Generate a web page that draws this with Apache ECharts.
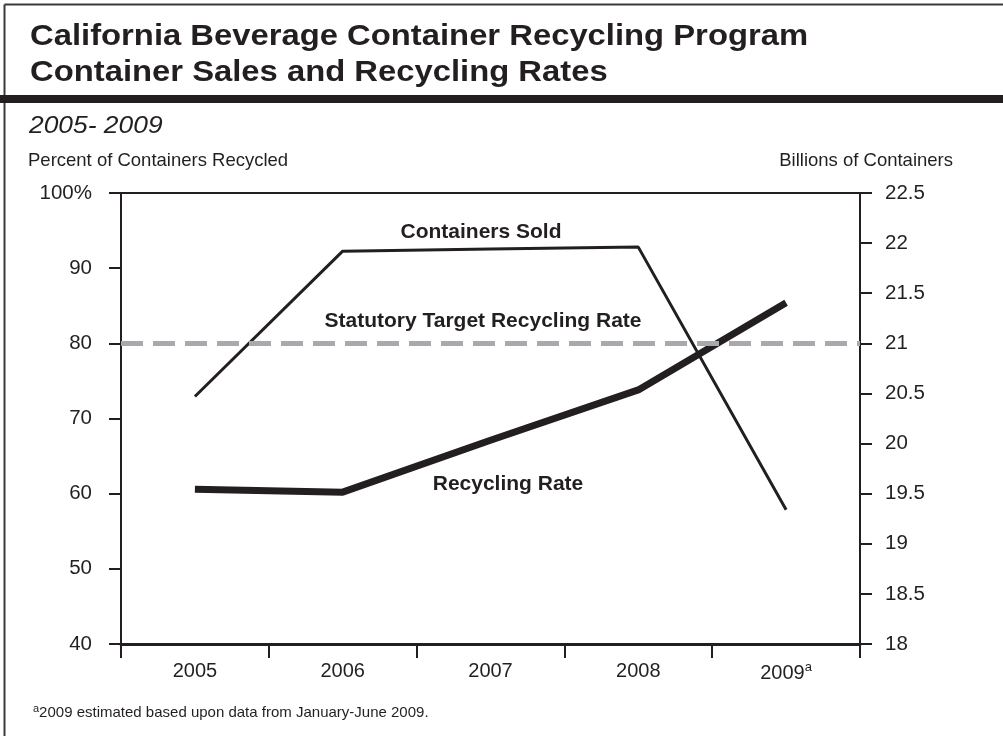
<!DOCTYPE html>
<html>
<head>
<meta charset="utf-8">
<script src="https://cdn.jsdelivr.net/npm/echarts@6/dist/echarts.min.js"></script>
<style>
html,body{margin:0;padding:0;background:#fff;}
#chart{width:1003px;height:736px;}
</style>
</head>
<body>
<div id="chart"></div>
<script>
var years = ['2005', '2006', '2007', '2008', '2009'];
var recyclingRate = [60.6, 60.2, 67.1, 73.8, 85.4];
var containersSold = [20.47, 21.92, 21.94, 21.96, 19.34];
var statutoryTarget = 80;
var leftTicks = { min: 40, max: 100, interval: 10 };
var rightTicks = { min: 18, max: 22.5, interval: 0.5 };

var FONT = '"Liberation Sans", Arial, Helvetica, sans-serif';
var INK = '#231f20';
var chart = echarts.init(document.getElementById('chart'), null, { renderer: 'canvas' });

var option = {
  backgroundColor: '#ffffff',
  animation: false,
  textStyle: { fontFamily: FONT },
  grid: { left: 121, right: 143, top: 193, bottom: 92, show: false },
  xAxis: {
    type: 'category',
    data: years,
    boundaryGap: true,
    axisLine: { show: true, lineStyle: { color: INK, width: 3 } },
    axisTick: { show: true, length: 14, inside: false, lineStyle: { color: INK, width: 2 } },
    axisLabel: {
      margin: 17,
      fontSize: 20,
      color: INK,
      fontFamily: FONT,
      formatter: function (v) { return v === '2009' ? '2009{sup|a}' : v; },
      rich: { sup: { fontSize: 13, verticalAlign: 'top', padding: [0, 0, 12, 0], color: INK, fontFamily: FONT } }
    },
    splitLine: { show: false }
  },
  yAxis: [
    {
      type: 'value',
      min: leftTicks.min, max: leftTicks.max, interval: leftTicks.interval,
      position: 'left',
      axisLine: { show: true, lineStyle: { color: INK, width: 2 } },
      axisTick: { show: true, length: 12, lineStyle: { color: INK, width: 2 } },
      axisLabel: {
        margin: 29, fontSize: 20.5, color: INK, fontFamily: FONT,
        formatter: function (v) { return v === 100 ? '100%' : String(v); }
      },
      splitLine: { show: false }
    },
    {
      type: 'value',
      min: rightTicks.min, max: rightTicks.max, interval: rightTicks.interval,
      position: 'right',
      axisLine: { show: true, lineStyle: { color: INK, width: 2 } },
      axisTick: { show: true, length: 12, lineStyle: { color: INK, width: 2 } },
      axisLabel: { margin: 25, fontSize: 20.5, color: INK, fontFamily: FONT },
      splitLine: { show: false }
    }
  ],
  series: [
    {
      name: 'Statutory Target Recycling Rate',
      type: 'line',
      yAxisIndex: 0,
      data: [],
      markLine: {
        silent: true,
        symbol: ['none', 'none'],
        label: { show: false },
        lineStyle: { color: '#a7a9ac', width: 5, type: [22, 10] },
        data: [{ yAxis: statutoryTarget }]
      },
      z: 1
    },
    {
      name: 'Top border',
      type: 'line',
      yAxisIndex: 0,
      data: [],
      markLine: {
        silent: true,
        symbol: ['none', 'none'],
        label: { show: false },
        lineStyle: { color: INK, width: 2, type: 'solid' },
        data: [{ yAxis: leftTicks.max }]
      },
      z: 1
    },
    {
      name: 'Containers Sold',
      type: 'line',
      yAxisIndex: 1,
      data: containersSold,
      symbol: 'none',
      lineStyle: { color: INK, width: 3 },
      z: 3
    },
    {
      name: 'Recycling Rate',
      type: 'line',
      yAxisIndex: 0,
      data: recyclingRate,
      symbol: 'none',
      lineStyle: { color: INK, width: 7 },
      z: 4
    }
  ],
  graphic: [
    { type: 'line', shape: { x1: 4.5, y1: 4.5, x2: 1003, y2: 4.5 }, style: { stroke: '#3a3a3a', lineWidth: 2 } },
    { type: 'line', shape: { x1: 4.5, y1: 4.5, x2: 4.5, y2: 736 }, style: { stroke: '#3a3a3a', lineWidth: 2 } },
    { type: 'rect', shape: { x: 0, y: 95, width: 1003, height: 8 }, style: { fill: INK } },
    { type: 'text', x: 30, y: 22, scaleX: 1.093, style: { text: 'California Beverage Container Recycling Program', font: 'bold 30px ' + FONT, fill: INK, textAlign: 'left', textVerticalAlign: 'top' } },
    { type: 'text', x: 30, y: 58, scaleX: 1.093, style: { text: 'Container Sales and Recycling Rates', font: 'bold 30px ' + FONT, fill: INK, textAlign: 'left', textVerticalAlign: 'top' } },
    { type: 'text', x: 29, y: 114, scaleX: 1.1, style: { text: '2005- 2009', font: 'italic 24px ' + FONT, fill: INK, textAlign: 'left', textVerticalAlign: 'top' } },
    { type: 'text', x: 28, y: 151, style: { text: 'Percent of Containers Recycled', font: '18.5px ' + FONT, fill: INK, textAlign: 'left', textVerticalAlign: 'top' } },
    { type: 'text', x: 953, y: 151, style: { text: 'Billions of Containers', font: '18.5px ' + FONT, fill: INK, textAlign: 'right', textVerticalAlign: 'top' } },
    { type: 'text', x: 481, y: 232, style: { text: 'Containers Sold', font: 'bold 21px ' + FONT, fill: INK, textAlign: 'center', textVerticalAlign: 'middle' } },
    { type: 'text', x: 483, y: 321, style: { text: 'Statutory Target Recycling Rate', font: 'bold 21px ' + FONT, fill: INK, textAlign: 'center', textVerticalAlign: 'middle' } },
    { type: 'text', x: 508, y: 484, style: { text: 'Recycling Rate', font: 'bold 21px ' + FONT, fill: INK, textAlign: 'center', textVerticalAlign: 'middle' } },
    {
      type: 'text', x: 33, y: 703,
      style: {
        text: '{sup|a}2009 estimated based upon data from January-June 2009.',
        font: '15px ' + FONT, fill: INK, textAlign: 'left', textVerticalAlign: 'top',
        rich: { sup: { fontSize: 11, verticalAlign: 'top', padding: [0, 0, 8, 0], fill: INK, fontFamily: FONT } }
      }
    }
  ]
};
chart.setOption(option);
</script>
</body>
</html>
